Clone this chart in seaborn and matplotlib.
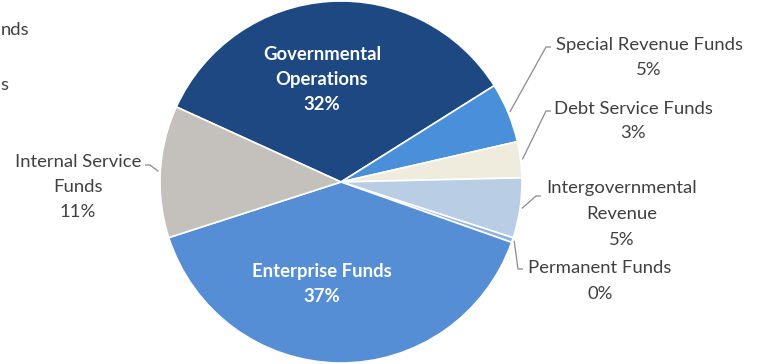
import matplotlib
matplotlib.use("Agg")
import matplotlib.pyplot as plt
import seaborn as sns
import numpy as np

# Shares of the total, in percent
categories = [
    "Governmental Operations",
    "Special Revenue Funds",
    "Debt Service Funds",
    "Intergovernmental Revenue",
    "Permanent Funds",
    "Enterprise Funds",
    "Internal Service Funds",
]
shares = [32, 5, 3, 5, 0.4, 37, 11]

# Label text, split into lines
label_lines = [
    ["Governmental", "Operations"],
    ["Special Revenue Funds"],
    ["Debt Service Funds"],
    ["Intergovernmental", "Revenue"],
    ["Permanent Funds"],
    ["Enterprise Funds"],
    ["Internal Service", "Funds"],
]

slice_colors = ["#1D4882", "#4A8FDA", "#EFEBDD", "#B9CDE5", "#8DB3E2", "#558ED5", "#C4C1BC"]

sns.set_theme(style="white")
plt.rcParams["font.family"] = ["Lato", "DejaVu Sans"]

W, H = 760, 364
fig = plt.figure(figsize=(W / 100, H / 100), dpi=100)
ax = fig.add_axes([0, 0, 1, 1])

cx, cy, r = 341, 182, 181
palette = sns.color_palette(slice_colors)
wedges, _ = ax.pie(
    shares,
    colors=palette,
    startangle=155.5,
    counterclock=False,
    center=(cx, cy),
    radius=r,
    wedgeprops=dict(edgecolor="white", linewidth=1.2),
)
ax.set_xlim(0, W)
ax.set_ylim(0, H)
ax.set_aspect("equal")
ax.axis("off")

# label layout: (center x, first line y from top, spacing, inside?, leader anchor)
layout = {
    "Governmental Operations": (322, 55, 24.5, True, None),
    "Special Revenue Funds": (649, 45, 25, False, (551, 47)),
    "Debt Service Funds": (633, 109, 24, False, (551, 111)),
    "Intergovernmental Revenue": (622, 188, 26, False, (541, 196)),
    "Permanent Funds": (600, 268, 26, False, (523, 269)),
    "Enterprise Funds": (322, 272, 24, True, None),
    "Internal Service Funds": (78, 162, 25, False, (145, 165)),
}

outside_color = "#404040"
fs = 13.3
for cat, val, lines, w in zip(categories, shares, label_lines, wedges):
    x, y0, dy, inside, anchor = layout[cat]
    texts = lines + [f"{round(val)}%"]
    for i, t in enumerate(texts):
        ax.text(
            x, H - (y0 + i * dy), t,
            ha="center", va="center",
            fontsize=fs,
            color="white" if inside else outside_color,
            fontweight="bold" if inside else "normal",
        )
    if anchor is not None:
        mid = np.deg2rad((w.theta1 + w.theta2) / 2)
        ex = cx + r * 1.01 * np.cos(mid)
        ey = cy + r * 1.01 * np.sin(mid)
        ax_x, ax_y = anchor[0], H - anchor[1]
        step = 5 if ax_x > cx else -5
        ax.plot([ax_x, ax_x - step, ex], [ax_y, ax_y, ey],
                color="#8a8a8a", lw=0.9, solid_capstyle="butt")

# ends of neighbouring legend text at the left edge
ax.text(1, H - 30, "nds", ha="left", va="center", fontsize=fs, color=outside_color)
ax.text(0, H - 85, "s", ha="left", va="center", fontsize=fs, color=outside_color)

fig.savefig("out.png", dpi=100)
